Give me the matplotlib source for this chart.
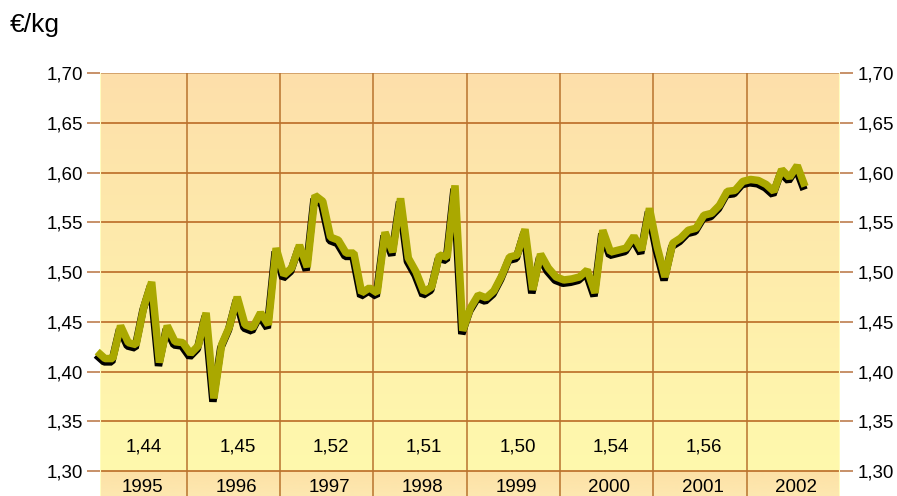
import numpy as np
import matplotlib
matplotlib.use("Agg")
import matplotlib.pyplot as plt
import matplotlib.patheffects as pe
from matplotlib.colors import LinearSegmentedColormap

plt.rcParams['font.family'] = ['Liberation Sans', 'DejaVu Sans']

# ---- data (monthly prices, €/kg) ----
p1995 = [1.420, 1.413, 1.413, 1.446, 1.429, 1.427, 1.465, 1.490, 1.409, 1.446, 1.430, 1.429]
p1996 = [1.418, 1.426, 1.459, 1.373, 1.427, 1.445, 1.475, 1.447, 1.444, 1.459, 1.447, 1.524]
p1997 = [1.497, 1.504, 1.527, 1.505, 1.577, 1.571, 1.535, 1.532, 1.519, 1.519, 1.479, 1.484]
p1998 = [1.479, 1.540, 1.520, 1.574, 1.514, 1.500, 1.480, 1.485, 1.517, 1.515, 1.587, 1.441]
p1999 = [1.464, 1.477, 1.474, 1.481, 1.496, 1.515, 1.517, 1.543, 1.482, 1.518, 1.504, 1.495]
p2000 = [1.492, 1.493, 1.495, 1.502, 1.479, 1.542, 1.520, 1.522, 1.524, 1.536, 1.522, 1.564]
p2001 = [1.525, 1.495, 1.529, 1.534, 1.542, 1.544, 1.557, 1.559, 1.567, 1.581, 1.582, 1.591]
p2002 = [1.593, 1.592, 1.588, 1.581, 1.603, 1.595, 1.607, 1.586]

years = [1995, 1996, 1997, 1998, 1999, 2000, 2001, 2002]
year_labels = ["1995", "1996", "1997", "1998", "1999", "2000", "2001", "2002"]
annual_avg = ["1,44", "1,45", "1,52", "1,51", "1,50", "1,54", "1,56", ""]
yticks = [1.30, 1.35, 1.40, 1.45, 1.50, 1.55, 1.60, 1.65, 1.70]
ytick_labels = ["1,30", "1,35", "1,40", "1,45", "1,50", "1,55", "1,60", "1,65", "1,70"]
unit_label = "€/kg"

prices = np.array(p1995 + p1996 + p1997 + p1998 + p1999 + p2000 + p2001 + p2002)
t = 1995 + (np.arange(len(prices)) + 0.5) / 12.0

# ---- figure ----
W, H = 897, 496
fig = plt.figure(figsize=(W / 100, H / 100), dpi=100)
fig.patch.set_facecolor('white')
ax = fig.add_axes([100 / W, 0, 740 / W, 1 - 73 / H])

y0 = 1.30 - 25 / 49.75 * 0.05
x0 = 1995 + (100 - 93.33) / 93.33

# background gradient
cmap = LinearSegmentedColormap.from_list('bg', ['#FFF9AD', '#FDDFAA'])
grad = np.linspace(0, 1, 256).reshape(-1, 1)
ax.imshow(grad, cmap=cmap, origin='lower', aspect='auto',
          extent=[x0, 2003, 1.30, 1.70], zorder=0)
cmap2 = LinearSegmentedColormap.from_list('bg2', ['#FDE8B0', '#FDE1A6'])
ax.imshow(grad, cmap=cmap2, origin='lower', aspect='auto',
          extent=[x0, 2003, y0, 1.30], zorder=0)
ax.set_xlim(x0, 2003)
ax.set_ylim(y0, 1.70)

# grid
for yv in yticks:
    col = '#C8925A' if yv == 1.70 else '#B4601A'
    ax.axhline(yv, color=col, lw=1.1, zorder=1)
for yr in years[1:]:
    ax.axvline(yr, color='#B8732E', lw=1.1, zorder=1)

# edge highlights
ax.axvline(x0, color='#FFFDC0', lw=1.5, zorder=1)
ax.axvline(2003, color='#FFFDC0', lw=1.5, zorder=1)

# line with shadow
ax.plot(t, prices, color='#AAA800', lw=5.4, solid_joinstyle='bevel',
        solid_capstyle='butt', clip_on=False, zorder=3,
        path_effects=[pe.SimpleLineShadow(offset=(-0.7, -2.4), shadow_color='black', alpha=1.0),
                      pe.Normal()])

# labels inside plot
for yr, lab, avg in zip(years, year_labels, annual_avg):
    ax.text(yr + 0.53, 1.2838, lab, ha='center', va='center', fontsize=13.5, color='black', zorder=4)
    if avg:
        ax.text(yr + 0.545, 1.324, avg, ha='center', va='center', fontsize=13.5, color='black', zorder=4)

# axes styling
for s in ax.spines.values():
    s.set_visible(False)
ax.set_xticks([])
ax.set_yticks(yticks)
ax.set_yticklabels(ytick_labels)
ax.tick_params(axis='y', which='both', left=True, right=True, labelleft=True, labelright=True,
               length=9.4, width=1.1, color='#B87340', direction='out', pad=3,
               labelsize=13.5)

fig.text(10 / W, 1 - 32 / H, unit_label, ha='left', va='baseline', fontsize=19)

fig.savefig('out.png', dpi=100)
